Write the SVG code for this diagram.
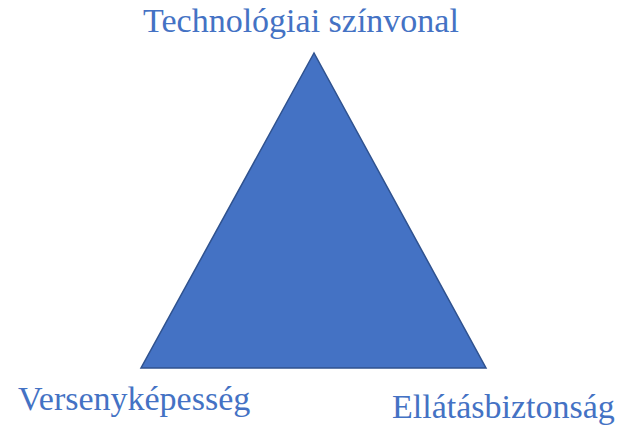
<svg xmlns="http://www.w3.org/2000/svg" width="636" height="436" viewBox="0 0 636 436">
<style>
.lbl{font-family:"Liberation Serif","Times New Roman",serif;font-size:34px;fill:#4472C4}
.tri{fill:#4472C4;stroke:#2F528F;stroke-width:1.5}
</style>
<rect width="636" height="436" fill="#ffffff"/>
<g id="connectors"></g>
<g id="triangle"><polygon class="tri" points="314,53 141,368 486,368"/></g>
<g id="node-top"><text class="lbl" x="301" y="32" text-anchor="middle">Technológiai színvonal</text></g>
<g id="node-left"><text class="lbl" x="18" y="410">Versenyképesség</text></g>
<g id="node-right"><text class="lbl" x="392" y="418">Ellátásbiztonság</text></g>
</svg>
